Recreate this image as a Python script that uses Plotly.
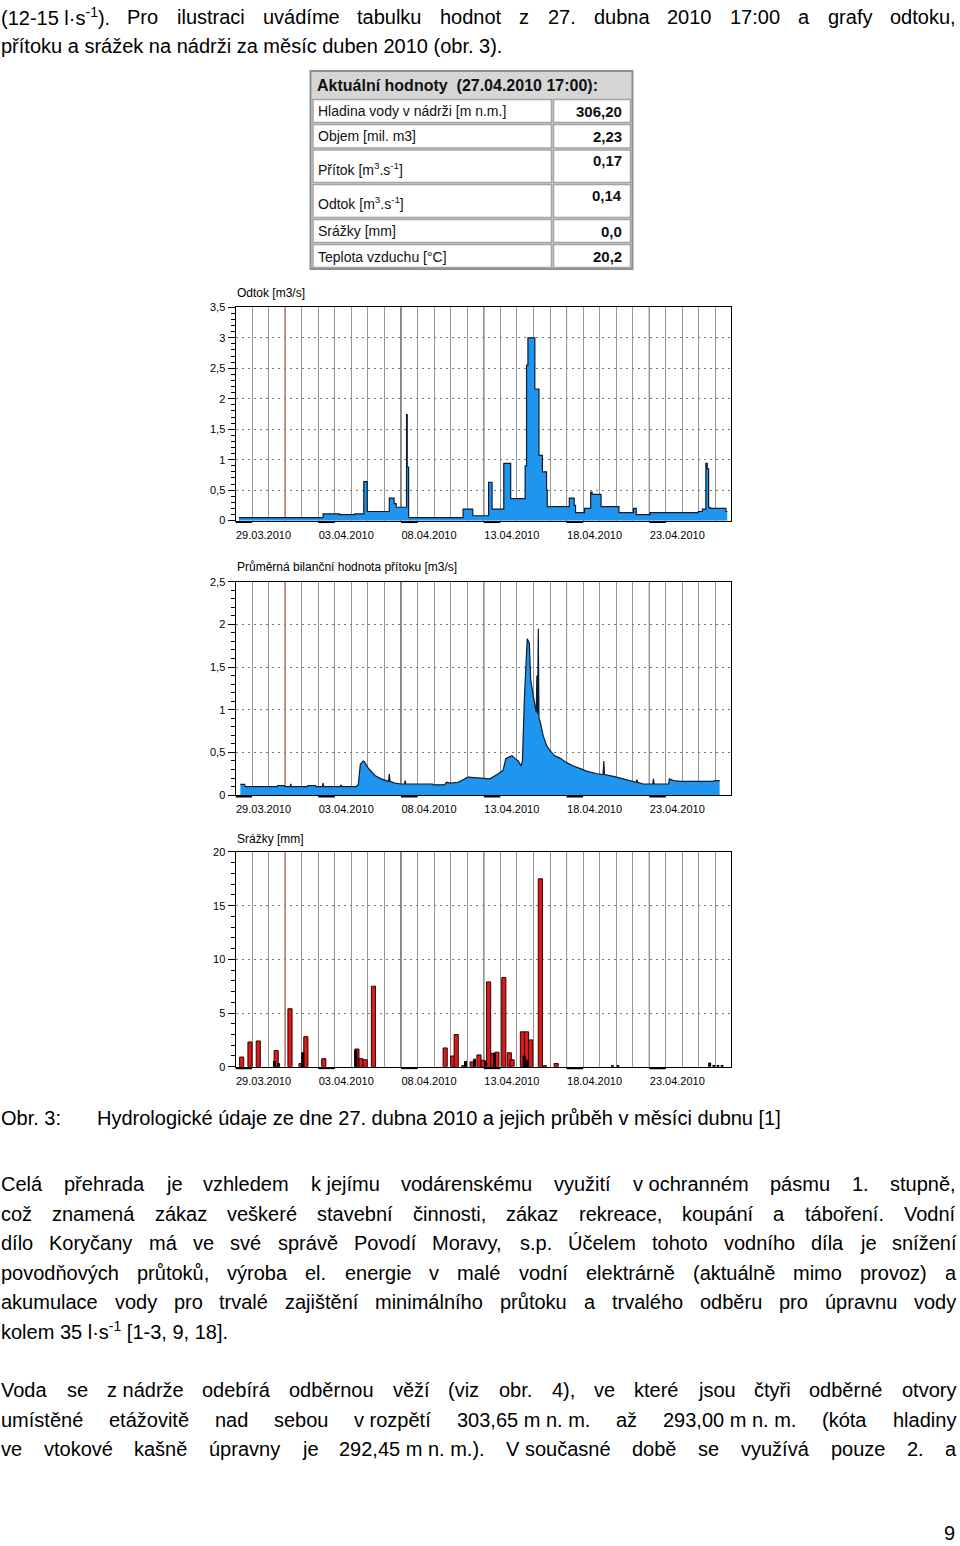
import re
import plotly.graph_objects as go

W, H = 960, 1546

# ---------------- data ----------------
table_title = "Aktuální hodnoty\u00a0\u00a0(27.04.2010 17:00):"
table_labels = ["Hladina vody v nádrži [m n.m.]", "Objem [mil. m3]",
                "Přítok [m<sup>3</sup>.s<sup>-1</sup>]", "Odtok [m<sup>3</sup>.s<sup>-1</sup>]",
                "Srážky [mm]", "Teplota vzduchu [°C]"]
table_values = ["306,20", "2,23", "0,17", "0,14", "0,0", "20,2"]

chart_titles = ["Odtok [m3/s]", "Průměrná bilanční hodnota přítoku [m3/s]", "Srážky [mm]"]

odtok_time = ['2010-03-29 05:00', '2010-04-03 07:00', '2010-04-04 07:00', '2010-04-05 05:00', '2010-04-05 18:00', '2010-04-05 23:00',
              '2010-04-07 07:00', '2010-04-07 14:00', '2010-04-07 17:00', '2010-04-08 08:00', '2010-04-08 09:00', '2010-04-08 11:00',
              '2010-04-11 18:00', '2010-04-12 08:00', '2010-04-13 07:00', '2010-04-13 12:00', '2010-04-14 05:00', '2010-04-14 15:00',
              '2010-04-15 12:00', '2010-04-15 14:00', '2010-04-15 16:00', '2010-04-16 02:00', '2010-04-16 08:00', '2010-04-16 13:00',
              '2010-04-16 19:00', '2010-04-16 20:00', '2010-04-18 04:00', '2010-04-18 11:00', '2010-04-18 13:00', '2010-04-19 02:00',
              '2010-04-19 11:00', '2010-04-19 13:00', '2010-04-20 02:00', '2010-04-21 04:00', '2010-04-22 01:00', '2010-04-22 05:00',
              '2010-04-23 01:00', '2010-04-25 23:00', '2010-04-26 05:00', '2010-04-26 10:00', '2010-04-26 12:00', '2010-04-26 14:00',
              '2010-04-26 16:00', '2010-04-27 15:00', '2010-04-27 17:00']
odtok_value = [0.05, 0.11, 0.10, 0.11, 0.64, 0.15,
               0.37, 0.28, 0.22, 1.74, 0.88, 0.05,
               0.19, 0.08, 0.63, 0.19, 0.94, 0.36,
               0.90, 2.55, 3.00, 2.16, 1.07, 0.80,
               0.50, 0.23, 0.37, 0.25, 0.13, 0.20,
               0.47, 0.43, 0.23, 0.13, 0.20, 0.10,
               0.13, 0.15, 0.19, 0.94, 0.85, 0.22,
               0.20, 0.15, 0.15]

pritok_time = ['2010-03-29 07:00', '2010-03-29 13:00', '2010-03-29 14:00', '2010-03-31 12:00', '2010-03-31 13:00', '2010-03-31 23:00',
               '2010-04-01 00:00', '2010-04-01 07:00', '2010-04-01 08:00', '2010-04-01 09:00', '2010-04-02 08:00', '2010-04-02 09:00',
               '2010-04-02 20:00', '2010-04-02 21:00', '2010-04-03 06:00', '2010-04-03 07:00', '2010-04-03 08:00', '2010-04-04 08:00',
               '2010-04-04 09:00', '2010-04-04 10:00', '2010-04-05 07:00', '2010-04-05 10:00', '2010-04-05 13:00', '2010-04-05 17:00',
               '2010-04-05 19:00', '2010-04-06 00:00', '2010-04-06 10:00', '2010-04-06 19:00', '2010-04-07 06:00', '2010-04-07 07:00',
               '2010-04-07 08:00', '2010-04-07 15:00', '2010-04-08 00:00', '2010-04-08 05:00', '2010-04-08 06:00', '2010-04-08 07:00',
               '2010-04-09 22:00', '2010-04-09 23:00', '2010-04-10 15:00', '2010-04-10 18:00', '2010-04-10 23:00', '2010-04-11 11:00',
               '2010-04-12 01:00', '2010-04-13 00:00', '2010-04-13 09:00', '2010-04-13 21:00', '2010-04-14 04:00', '2010-04-14 08:00',
               '2010-04-14 17:00', '2010-04-14 21:00', '2010-04-15 02:00', '2010-04-15 06:00', '2010-04-15 08:00', '2010-04-15 11:00',
               '2010-04-15 13:00', '2010-04-15 15:00', '2010-04-15 18:00', '2010-04-15 19:00', '2010-04-15 20:00', '2010-04-16 00:00',
               '2010-04-16 04:00', '2010-04-16 05:00', '2010-04-16 06:00', '2010-04-16 07:00', '2010-04-16 08:00', '2010-04-16 10:00',
               '2010-04-16 14:00', '2010-04-16 19:00', '2010-04-17 00:00', '2010-04-17 07:00', '2010-04-17 15:00', '2010-04-18 00:00',
               '2010-04-18 10:00', '2010-04-18 20:00', '2010-04-19 05:00', '2010-04-19 20:00', '2010-04-20 05:00', '2010-04-20 06:00',
               '2010-04-20 07:00', '2010-04-20 20:00', '2010-04-21 10:00', '2010-04-22 01:00', '2010-04-22 05:00', '2010-04-22 06:00',
               '2010-04-22 07:00', '2010-04-22 15:00', '2010-04-23 05:00', '2010-04-23 06:00', '2010-04-23 07:00', '2010-04-24 04:00',
               '2010-04-24 05:00', '2010-04-24 11:00', '2010-04-24 21:00', '2010-04-26 21:00', '2010-04-26 22:00', '2010-04-27 06:00']
pritok_value = [0.125, 0.125, 0.10, 0.10, 0.11, 0.11,
                0.10, 0.10, 0.13, 0.10, 0.10, 0.11,
                0.11, 0.10, 0.10, 0.14, 0.10, 0.10,
                0.12, 0.10, 0.10, 0.12, 0.36, 0.40,
                0.39, 0.32, 0.23, 0.19, 0.16, 0.25,
                0.16, 0.14, 0.13, 0.13, 0.17, 0.13,
                0.13, 0.12, 0.12, 0.15, 0.14, 0.15,
                0.21, 0.20, 0.19, 0.25, 0.29, 0.43,
                0.46, 0.43, 0.40, 0.34, 0.40, 1.16,
                1.54, 1.83, 1.78, 1.55, 1.35, 1.15,
                0.97, 1.40, 0.95, 1.95, 0.90, 0.85,
                0.70, 0.58, 0.52, 0.46, 0.43, 0.38,
                0.34, 0.31, 0.28, 0.25, 0.24, 0.40,
                0.24, 0.22, 0.19, 0.15, 0.15, 0.18,
                0.15, 0.13, 0.13, 0.19, 0.13, 0.13,
                0.19, 0.17, 0.16, 0.16, 0.17, 0.17]

srazky_time = ['2010-03-29 06:00', '2010-03-29 18:00', '2010-03-30 06:00', '2010-03-31 08:00', '2010-04-01 04:00', '2010-04-01 20:00',
               '2010-04-02 03:00', '2010-04-03 05:00', '2010-04-05 05:00', '2010-04-05 11:00', '2010-04-05 17:00', '2010-04-06 05:00',
               '2010-04-10 13:00', '2010-04-11 00:00', '2010-04-11 05:00', '2010-04-11 16:00', '2010-04-12 04:00', '2010-04-12 14:00',
               '2010-04-12 20:00', '2010-04-13 04:00', '2010-04-13 10:00', '2010-04-13 16:00', '2010-04-14 02:00', '2010-04-14 10:00',
               '2010-04-14 14:00', '2010-04-15 05:00', '2010-04-15 11:00', '2010-04-15 17:00', '2010-04-16 07:00', '2010-04-16 13:00',
               '2010-04-17 06:00']
srazky_value = [0.9, 2.3, 2.4, 1.5, 5.4, 0.3,
                2.8, 0.75, 1.65, 0.75, 0.65, 7.5,
                1.75, 1.0, 3.0, 0.1, 0.45, 1.1,
                0.6, 7.9, 1.25, 1.35, 8.3, 1.3,
                0.65, 3.25, 3.25, 2.5, 17.5, 0.1,
                0.3]
srazky_short_time = ['2010-03-31 07:00', '2010-03-31 13:00', '2010-04-02 00:00', '2010-04-05 05:00', '2010-04-11 20:00', '2010-04-12 09:00',
                     '2010-04-13 01:00', '2010-04-13 14:00', '2010-04-15 09:00', '2010-04-15 13:00', '2010-04-20 17:00', '2010-04-21 01:00',
                     '2010-04-26 14:00', '2010-04-26 20:00', '2010-04-27 02:00', '2010-04-27 08:00']
srazky_short_value = [0.5, 0.3, 1.3, 1.5, 0.5, 0.7,
                      0.5, 1.2, 1.0, 0.6, 0.1, 0.1,
                      0.35, 0.12, 0.12, 0.12]

month_start = '2010-04-01'
week_marks = ['2010-04-08', '2010-04-13', '2010-04-18', '2010-04-23']
label_days = ['2010-03-29', '2010-04-03', '2010-04-08', '2010-04-13', '2010-04-18', '2010-04-23']
label_day_ends = ['2010-03-30', '2010-04-04', '2010-04-09', '2010-04-14', '2010-04-19', '2010-04-24']

para1 = ["(12-15\u00a0l·s<sup>-1</sup>). Pro ilustraci uvádíme tabulku hodnot z 27. dubna 2010 17:00 a grafy odtoku,",
         "přítoku a srážek na nádrži za měsíc duben 2010 (obr. 3)."]
caption_num = "Obr. 3:"
caption_text = "Hydrologické údaje ze dne 27. dubna 2010 a jejich průběh v měsíci dubnu [1]"
para2 = ["Celá přehrada je vzhledem k\u00a0jejímu vodárenskému využití v\u00a0ochranném pásmu 1. stupně,",
         "což znamená zákaz veškeré stavební činnosti, zákaz rekreace, koupání a táboření. Vodní",
         "dílo Koryčany má ve své správě Povodí Moravy, s.p. Účelem tohoto vodního díla je snížení",
         "povodňových průtoků, výroba el. energie v malé vodní elektrárně (aktuálně mimo provoz) a",
         "akumulace vody pro trvalé zajištění minimálního průtoku a trvalého odběru pro úpravnu vody",
         "kolem 35\u00a0l·s<sup>-1</sup> [1-3, 9, 18]."]
para3 = ["Voda se z\u00a0nádrže odebírá odběrnou věží (viz obr. 4), ve které jsou čtyři odběrné otvory",
         "umístěné etážovitě nad sebou v\u00a0rozpětí 303,65\u00a0m\u00a0n.\u00a0m. až 293,00\u00a0m\u00a0n.\u00a0m. (kóta hladiny",
         "ve vtokové kašně úpravny je 292,45\u00a0m\u00a0n.\u00a0m.). V\u00a0současné době se využívá pouze 2. a"]
page_number = "9"

# ---------------- helpers ----------------
BODY = "Liberation Sans, Arial, sans-serif"
SMALL = "Liberation Sans, Arial, sans-serif"


def px(x):
    return x / W


def py(y):
    # vertical page position (px from top) -> paper fraction, with a small calibration stretch
    return 1 - (1.008 * y - 5.5) / H


AW = {' ': 278, '\u00a0': 278, '(': 333, ')': 333, ',': 278, '-': 333, '.': 278, ':': 278, '·': 278, '[': 278, ']': 278,
      '/': 278, 'C': 722, 'K': 667, 'M': 833, 'P': 667, 'V': 667, 'Ú': 722, 'O': 778, 'H': 722,
      'a': 556, 'b': 556, 'c': 500, 'd': 556, 'e': 556, 'f': 278, 'g': 556, 'h': 556, 'i': 222, 'j': 222,
      'k': 500, 'l': 222, 'm': 833, 'n': 556, 'o': 556, 'p': 556, 'q': 556, 'r': 333, 's': 500, 't': 278,
      'u': 556, 'v': 500, 'w': 722, 'x': 500, 'y': 500, 'z': 500, 'á': 556, 'é': 556, 'í': 278, 'ó': 556,
      'ú': 556, 'ů': 556, 'ý': 500, 'č': 500, 'ě': 556, 'ň': 556, 'ř': 333, 'š': 500, 'ž': 500}


def text_w(s, size):
    tot = 0.0
    for part in re.split(r'(<sup>.*?</sup>)', s):
        if part.startswith('<sup>'):
            tot += 0.7 * sum(AW.get(c, 556) for c in part[5:-6])
        else:
            tot += sum(AW.get(c, 556) for c in part)
    return tot * size / 1000.0


annotations = []
shapes = []


def add_text(text, x, y, size=20, anchor='left', family=BODY, color='black'):
    annotations.append(dict(text=text, x=px(x), y=py(y), xref='paper', yref='paper', xanchor=anchor,
                            yanchor='middle', showarrow=False, borderpad=0,
                            font=dict(family=family, size=size, color=color)))


def justified(line, y, left=0.0, right=955.0, size=20):
    words = line.split(' ')
    widths = [text_w(w, size) for w in words]
    gap = (right - left - sum(widths)) / (len(words) - 1)
    x = left
    for w, wd in zip(words, widths):
        add_text(w, x, y, size)
        x += wd + gap


# ---------------- page text ----------------
P1_Y = [16, 45]
justified(para1[0], P1_Y[0])
add_text(para1[1], 0, P1_Y[1])
add_text(caption_num, 0, 1117)
add_text(caption_text, 96, 1117)
P2_Y = [1183, 1213, 1242, 1272, 1301, 1330]
for i, line in enumerate(para2):
    if i < len(para2) - 1:
        justified(line, P2_Y[i])
    else:
        add_text(line, 0, P2_Y[i])
P3_Y = [1389, 1419, 1448]
for i, line in enumerate(para3):
    justified(line, P3_Y[i])
add_text(page_number, 956, 1532, anchor='right')

# ---------------- table ----------------
def rect(x0, y0, x1, y1, fill, line, lw):
    shapes.append(dict(type='rect', xref='paper', yref='paper', x0=px(x0), x1=px(x1), y0=py(y1), y1=py(y0),
                       fillcolor=fill, line=dict(color=line, width=lw), layer='above'))


rect(310.5, 70.5, 632.5, 268.5, '#d6d6d6', '#8e8e8e', 2)
row_edges = [98, 123, 148.5, 183, 218, 243, 268]
label_y = [110.5, 135.5, 168, 202, 230.5, 256]
value_y = [110.5, 135.5, 160, 195, 230.5, 256]
for i in range(6):
    t, b = row_edges[i] + 1, row_edges[i + 1] - 1
    rect(313, t, 551.5, b, 'white', '#a4a4a4', 1.5)
    rect(553.5, t, 630.5, b, 'white', '#a4a4a4', 1.5)
add_text("<b>" + table_title + "</b>", 316, 85, size=16, family=SMALL, color='#111111')
for lab, val, ly, vy in zip(table_labels, table_values, label_y, value_y):
    add_text(lab, 317, ly, size=14, family=SMALL, color='#111111')
    add_text("<b>" + val + "</b>", 623, vy, size=15, anchor='right', family=SMALL, color='#111111')

# ---------------- charts ----------------
DAY = 86400000
X0, X1 = 235.5, 730.7
XR = ['2010-03-29 00:00', '2010-04-27 22:00']
GRID_V = '#969696'
BLUE = '#1e96f0'
chart_px = [(306.7, 520.0), (581.0, 794.4), (851.3, 1066.0)]
title_y = [292, 566, 838]
yr = [(3.5, 0.5, 0.1), (2.5, 0.5, 0.1), (20, 5, 1)]

fig = go.Figure()

fig.add_trace(go.Scatter(x=odtok_time, y=odtok_value, mode='lines', line=dict(shape='hv', color='#0c1a33', width=1.2),
                         fill='tozeroy', fillcolor=BLUE, xaxis='x', yaxis='y', hoverinfo='skip'))
fig.add_trace(go.Scatter(x=pritok_time, y=pritok_value, mode='lines', line=dict(color='#0c1a33', width=1.2),
                         fill='tozeroy', fillcolor=BLUE, xaxis='x2', yaxis='y2', hoverinfo='skip'))
fig.add_trace(go.Bar(x=srazky_time, y=srazky_value, width=6 * 3600 * 1000, offset=0,
                     marker=dict(color='#dc1a1a', line=dict(color='#300000', width=1)),
                     xaxis='x3', yaxis='y3', hoverinfo='skip'))
fig.add_trace(go.Bar(x=srazky_short_time, y=srazky_short_value, width=3 * 3600 * 1000, offset=0,
                     marker=dict(color='#1a0505', line=dict(color='#000000', width=1)),
                     xaxis='x3', yaxis='y3', hoverinfo='skip'))

layout_axes = {}
for k in range(3):
    sfx = '' if k == 0 else str(k + 1)
    top, bot = chart_px[k]
    ymax, major, minor = yr[k]
    layout_axes['xaxis' + sfx] = dict(
        domain=[px(X0), px(X1)], anchor='y' + sfx, type='date', range=XR,
        tickmode='linear', tick0='2010-03-29', dtick=5 * DAY, tickformat='%d.%m.%Y',
        ticks='', showline=True, mirror=True, linecolor='black', linewidth=1,
        showgrid=True, gridcolor=GRID_V, gridwidth=1.4, zeroline=False,
        minor=dict(tickmode='linear', tick0='2010-03-29', dtick=DAY, showgrid=True, gridcolor=GRID_V,
                   gridwidth=1.4, ticks=''),
        tickfont=dict(family=SMALL, size=11, color='black'), ticklabelshift=28, ticklabelstandoff=4,
        fixedrange=True)
    layout_axes['yaxis' + sfx] = dict(
        domain=[py(bot), py(top)], anchor='x' + sfx, range=[0, ymax], tickmode='linear', tick0=0, dtick=major,
        ticks='outside', ticklen=7, tickwidth=1, tickcolor='black',
        showline=True, mirror=True, linecolor='black', linewidth=1,
        showgrid=True, gridcolor='#7a7a7a', gridwidth=1, griddash='2px,4px', zeroline=False,
        minor=dict(tickmode='linear', tick0=0, dtick=minor, ticks='outside', ticklen=4, tickwidth=1,
                   tickcolor='black', showgrid=False),
        tickfont=dict(family=SMALL, size=11, color='black'), fixedrange=True)
    xr = 'x' + sfx
    ydom = 'y' + sfx + ' domain'
    shapes.append(dict(type='line', xref=xr, yref=ydom, x0=month_start, x1=month_start, y0=0, y1=1,
                       line=dict(color='#ff0000', width=1.2), layer='below'))
    for d in week_marks:
        shapes.append(dict(type='line', xref=xr, yref=ydom, x0=d, x1=d, y0=0, y1=1,
                           line=dict(color='#000000', width=1), layer='below'))
    off = -1.6 / (bot - top)
    for d0, d1 in zip(label_days, label_day_ends):
        shapes.append(dict(type='line', xref=xr, yref=ydom, x0=d0, x1=d1, y0=off, y1=off,
                           line=dict(color='#000000', width=1.6), layer='above'))
    add_text(chart_titles[k], 236, title_y[k], size=12, family=SMALL)

fig.update_layout(width=W, height=H, margin=dict(l=0, r=0, t=0, b=0), paper_bgcolor='white',
                  plot_bgcolor='white', showlegend=False, barmode='overlay', separators=',.',
                  annotations=annotations, shapes=shapes, **layout_axes)

fig.write_html("out.html", config={'displayModeBar': False},
               post_script="var d=document.getElementById('{plot_id}');"
                           "d.style.position='fixed';d.style.top='0px';d.style.left='0px';"
                           "document.body.style.margin='0px';document.body.style.padding='0px';"
                           "document.documentElement.style.overflow='hidden';"
                           "document.body.style.overflow='hidden';")
